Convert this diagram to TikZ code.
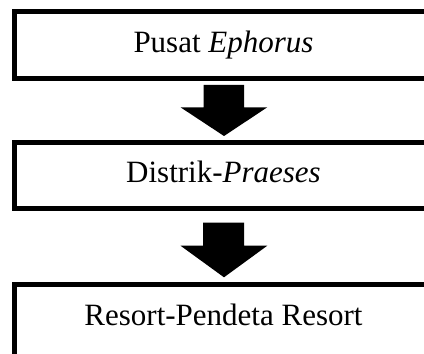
\documentclass[tikz,border=0pt]{standalone}
\usepackage{fontspec}
\setmainfont{Liberation Serif}[ItalicFont={Liberation Serif Italic}]
\begin{document}
\begin{tikzpicture}[x=1pt,y=1pt,
  box/.style={draw=black,line width=5pt,rectangle,inner sep=0pt,minimum width=418pt},
  lbl/.style={anchor=base,inner sep=0pt,font=\fontsize{31pt}{36pt}\selectfont},
  blockarrow/.style={fill=black}]
\useasboundingbox (0,0) rectangle (424,354);
\clip (0,0) rectangle (424,354);
\node[box,minimum height=67.3pt] (b1) at (223.5,308.65) {};
\node[box,minimum height=66.5pt] (b2) at (223.5,178.25) {};
\node[box,minimum height=89.5pt] (b3) at (223.5,24.75) {};
\node[lbl] (t1) at (223.5,301.7) {Pusat \textit{Ephorus}};
\node[lbl] (t2) at (223.5,171.7) {Distrik-\textit{Praeses}};
\node[lbl] (t3) at (223.5,28) {Resort-Pendeta Resort};
% block arrows
\fill[blockarrow] (203.5,269) -- (244,269) -- (244,246.7) -- (267.3,246.7)
  -- (224,218) -- (180.5,246.7) -- (203.5,246.7) -- cycle;
\fill[blockarrow] (203,131.3) -- (244,131.3) -- (244,108.3) -- (267.3,108.3)
  -- (224,76.7) -- (180.5,108.3) -- (203,108.3) -- cycle;
\end{tikzpicture}
\end{document}
